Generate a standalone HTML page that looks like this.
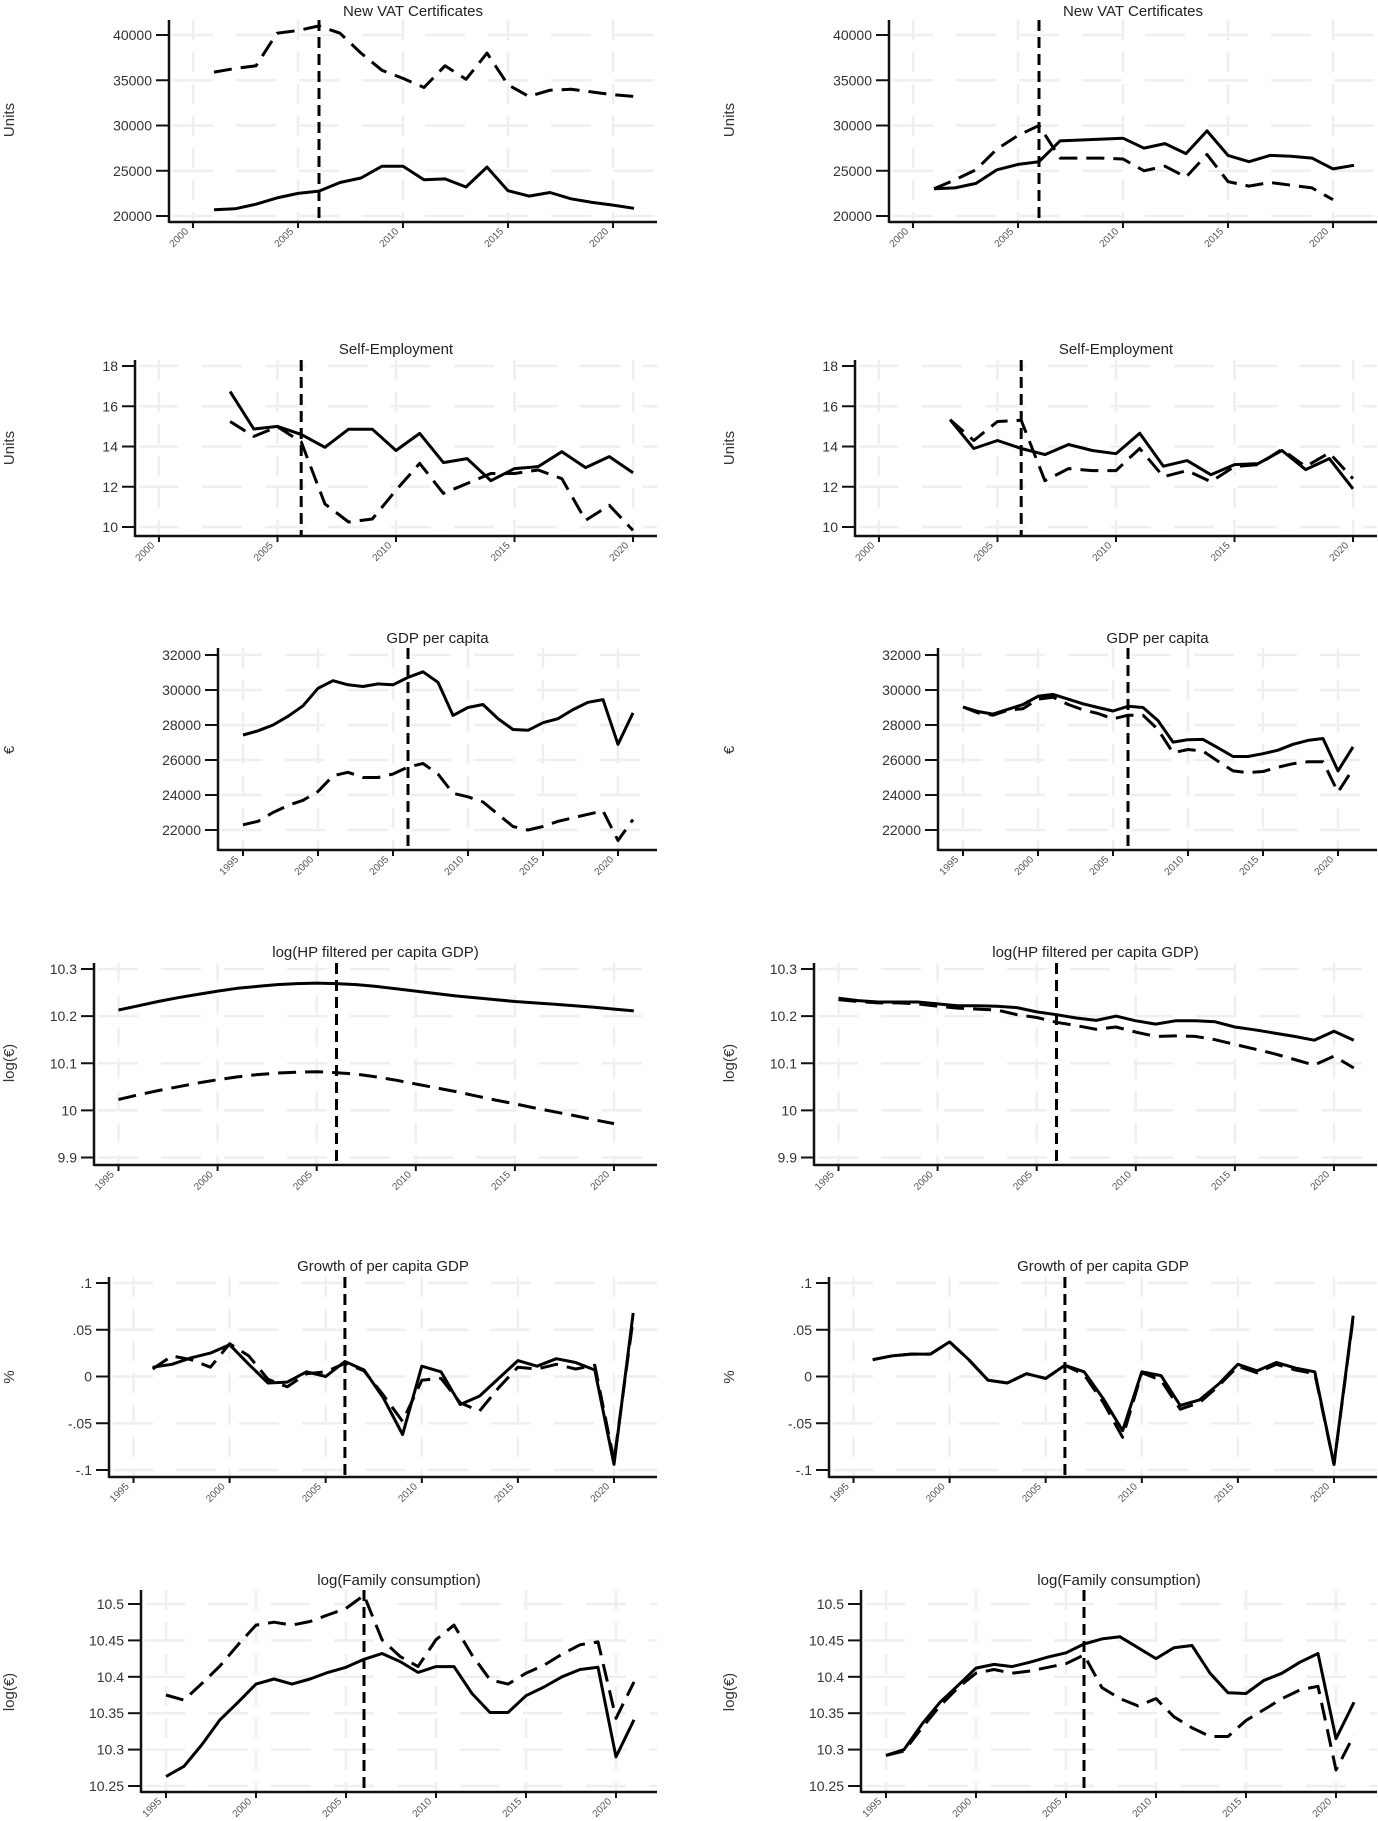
<!DOCTYPE html>
<html><head><meta charset="utf-8"><title>Panels</title>
<style>
html,body{margin:0;padding:0;background:#fff;}
svg{display:block;font-family:"Liberation Sans",Arial,sans-serif;}
</style></head>
<body>
<svg id="fig" width="1378" height="1821" viewBox="0 0 1378 1821" xmlns="http://www.w3.org/2000/svg"></svg>
<script>
// ---------- data ----------
const treatYear = 2006;
const yearTicksA = [2000,2005,2010,2015,2020];
const yearTicksB = [1995,2000,2005,2010,2015,2020];

const vatTicks = [20000,25000,30000,35000,40000];
const vatTickLabels = ["20000","25000","30000","35000","40000"];
const vatLSolidStart = 2001;
const vatLSolid = [20700,20800,21300,22000,22500,22750,23700,24200,25500,25500,24000,24100,23200,25400,22800,22200,22600,21900,21500,21200,20850];
const vatLDashStart = 2001;
const vatLDash = [35900,36300,36600,40200,40500,41000,40200,38000,36100,35200,34200,36600,35100,38000,34500,33200,33900,34000,33700,33400,33200];
const vatRSolidStart = 2001;
const vatRSolid = [23000,23100,23600,25100,25700,26000,28300,28400,28500,28600,27500,28000,26900,29400,26700,26000,26700,26600,26400,25200,25600];
const vatRDashStart = 2001;
const vatRDash = [23000,24000,25100,27400,28900,30000,26400,26400,26400,26300,25000,25500,24300,26800,23800,23300,23700,23400,23100,21800];

const seTicks = [10,12,14,16,18];
const seTickLabels = ["10","12","14","16","18"];
const seLSolidStart = 2003;
const seLSolid = [16.73,14.87,15.0,14.6,13.96,14.86,14.86,13.8,14.65,13.2,13.4,12.3,12.9,13.0,13.74,12.95,13.5,12.7];
const seLDashStart = 2003;
const seLDash = [15.24,14.5,14.98,14.23,11.15,10.25,10.4,11.83,13.16,11.67,12.16,12.66,12.66,12.83,12.4,10.33,11.08,9.83];
const seRSolidStart = 2003;
const seRSolid = [15.33,13.9,14.3,13.9,13.6,14.1,13.8,13.64,14.66,13.02,13.3,12.6,13.1,13.15,13.8,12.85,13.4,11.9];
const seRDashStart = 2003;
const seRDash = [15.33,14.3,15.24,15.3,12.3,12.9,12.8,12.8,13.9,12.5,12.8,12.25,13.0,13.1,13.85,13.0,13.68,12.4];

const gdpTicks = [22000,24000,26000,28000,30000,32000];
const gdpTickLabels = ["22000","24000","26000","28000","30000","32000"];
const gdpLSolidStart = 1995;
const gdpLSolid = [27430,27670,28000,28500,29100,30100,30530,30300,30200,30350,30300,30720,31040,30440,28550,29000,29170,28360,27740,27700,28130,28360,28880,29300,29450,26900,28690];
const gdpLDashStart = 1995;
const gdpLDash = [22300,22500,23000,23400,23700,24200,25100,25300,25000,25000,25200,25600,25800,25200,24100,23900,23600,22900,22200,22000,22200,22500,22700,22900,23100,21400,22600];
const gdpRSolidStart = 1995;
const gdpRSolid = [29030,28770,28620,28900,29170,29640,29750,29480,29210,29000,28800,29070,29000,28250,27020,27160,27180,26700,26200,26200,26360,26560,26900,27120,27230,25380,26750];
const gdpRDashStart = 1995;
const gdpRDash = [29030,28700,28560,28850,28930,29480,29590,29180,28870,28660,28350,28560,28560,27740,26410,26600,26510,25930,25380,25280,25340,25590,25790,25900,25900,24160,25490];

const hpTicks = [9.9,10,10.1,10.2,10.3];
const hpTickLabels = ["9.9","10","10.1","10.2","10.3"];
const hpLSolidStart = 1995;
const hpLSolid = [10.213,10.222,10.231,10.239,10.246,10.253,10.259,10.263,10.267,10.269,10.270,10.269,10.267,10.263,10.258,10.253,10.248,10.243,10.239,10.235,10.231,10.228,10.225,10.222,10.219,10.215,10.211];
const hpLDashStart = 1995;
const hpLDash = [10.023,10.033,10.042,10.050,10.058,10.065,10.071,10.076,10.079,10.081,10.082,10.080,10.077,10.071,10.064,10.056,10.048,10.040,10.031,10.022,10.014,10.005,9.997,9.989,9.980,9.972];
const hpRSolidStart = 1995;
const hpRSolid = [10.238,10.233,10.230,10.230,10.230,10.226,10.222,10.222,10.221,10.218,10.209,10.203,10.196,10.191,10.200,10.190,10.183,10.190,10.190,10.188,10.177,10.171,10.164,10.157,10.149,10.168,10.149];
const hpRDashStart = 1995;
const hpRDash = [10.235,10.231,10.228,10.228,10.226,10.221,10.217,10.215,10.213,10.203,10.197,10.187,10.180,10.172,10.177,10.166,10.157,10.158,10.157,10.150,10.140,10.130,10.120,10.108,10.096,10.115,10.090];

const grTicks = [-0.1,-0.05,0,0.05,0.1];
const grTickLabels = ["-.1","-.05","0",".05",".1"];
const grLSolidStart = 1996;
const grLSolid = [0.010,0.013,0.020,0.025,0.034,0.013,-0.007,-0.006,0.005,0.000,0.016,0.007,-0.023,-0.062,0.011,0.005,-0.030,-0.021,-0.002,0.017,0.011,0.019,0.015,0.007,-0.094,0.068];
const grLDashStart = 1996;
const grLDash = [0.008,0.022,0.018,0.010,0.035,0.022,-0.003,-0.011,0.003,0.005,0.014,0.006,-0.020,-0.048,-0.004,-0.002,-0.028,-0.037,-0.012,0.010,0.008,0.013,0.008,0.012,-0.090,0.062];
const grRSolidStart = 1996;
const grRSolid = [0.018,0.022,0.024,0.024,0.037,0.018,-0.004,-0.007,0.003,-0.002,0.012,0.005,-0.024,-0.058,0.005,0.001,-0.031,-0.025,-0.008,0.013,0.006,0.015,0.009,0.005,-0.094,0.065];
const grRDashStart = 1996;
const grRDash = [0.018,0.022,0.024,0.024,0.037,0.018,-0.004,-0.007,0.003,-0.002,0.012,0.002,-0.028,-0.065,0.004,-0.004,-0.035,-0.028,-0.010,0.011,0.004,0.013,0.007,0.003,-0.094,0.063];

const fcTicks = [10.25,10.3,10.35,10.4,10.45,10.5];
const fcTickLabels = ["10.25","10.3","10.35","10.4","10.45","10.5"];
const fcLSolidStart = 1995;
const fcLSolid = [10.263,10.277,10.307,10.341,10.365,10.390,10.397,10.390,10.397,10.406,10.413,10.424,10.432,10.421,10.406,10.414,10.414,10.377,10.351,10.351,10.374,10.386,10.400,10.410,10.413,10.290,10.341];
const fcLDashStart = 1995;
const fcLDash = [10.375,10.368,10.391,10.415,10.444,10.471,10.475,10.471,10.476,10.485,10.494,10.512,10.451,10.428,10.414,10.451,10.471,10.430,10.396,10.390,10.405,10.416,10.431,10.444,10.448,10.343,10.393];
const fcRSolidStart = 1995;
const fcRSolid = [10.292,10.300,10.335,10.365,10.388,10.412,10.417,10.414,10.420,10.427,10.433,10.445,10.452,10.455,10.440,10.425,10.440,10.443,10.405,10.378,10.377,10.395,10.405,10.420,10.432,10.315,10.365];
const fcRDashStart = 1995;
const fcRDash = [10.292,10.298,10.330,10.360,10.385,10.405,10.410,10.405,10.408,10.413,10.418,10.430,10.385,10.370,10.360,10.370,10.345,10.330,10.318,10.318,10.340,10.355,10.370,10.382,10.387,10.272,10.320];

// ---------- layout (geometry only) ----------
const RIGHT_END = 657, COL_OFF = 720;
const rows = [
 {key:"vat", title:"New VAT Certificates", ylab:"Units", axisX:169, yrA:2000, pxA:193, yrB:2020, pxB:613, vA:40000, pyA:35, vB:20000, pyB:216, top:20, bot:222, titleY:16, labY:120, yt:yearTicksA, ticks:vatTicks, tl:vatTickLabels,
  L:{ss:vatLSolidStart,s:vatLSolid,ds:vatLDashStart,d:vatLDash}, R:{ss:vatRSolidStart,s:vatRSolid,ds:vatRDashStart,d:vatRDash}},
 {key:"self-employment", title:"Self-Employment", ylab:"Units", axisX:135, yrA:2000, pxA:159, yrB:2020, pxB:633, vA:18, pyA:366, vB:10, pyB:527, top:360, bot:536, titleY:354, labY:448, yt:yearTicksA, ticks:seTicks, tl:seTickLabels,
  L:{ss:seLSolidStart,s:seLSolid,ds:seLDashStart,d:seLDash}, R:{ss:seRSolidStart,s:seRSolid,ds:seRDashStart,d:seRDash}},
 {key:"gdp", title:"GDP per capita", ylab:"\u20AC", axisX:218, yrA:1995, pxA:243, yrB:2020, pxB:618, vA:32000, pyA:655, vB:22000, pyB:830, top:648, bot:850, titleY:643, labY:750, yt:yearTicksB, ticks:gdpTicks, tl:gdpTickLabels,
  L:{ss:gdpLSolidStart,s:gdpLSolid,ds:gdpLDashStart,d:gdpLDash}, R:{ss:gdpRSolidStart,s:gdpRSolid,ds:gdpRDashStart,d:gdpRDash}},
 {key:"hp-gdp", title:"log(HP filtered per capita GDP)", ylab:"log(\u20AC)", axisX:94, yrA:1995, pxA:118.5, yrB:2020, pxB:614, vA:10.3, pyA:969, vB:9.9, pyB:1157.5, top:963, bot:1165, titleY:957, labY:1063, yt:yearTicksB, ticks:hpTicks, tl:hpTickLabels,
  L:{ss:hpLSolidStart,s:hpLSolid,ds:hpLDashStart,d:hpLDash}, R:{ss:hpRSolidStart,s:hpRSolid,ds:hpRDashStart,d:hpRDash}},
 {key:"growth", title:"Growth of per capita GDP", ylab:"%", axisX:109, yrA:1995, pxA:133.5, yrB:2020, pxB:614, vA:0.1, pyA:1283, vB:-0.1, pyB:1470, top:1277, bot:1477, titleY:1271, labY:1377, yt:yearTicksB, ticks:grTicks, tl:grTickLabels,
  L:{ss:grLSolidStart,s:grLSolid,ds:grLDashStart,d:grLDash}, R:{ss:grRSolidStart,s:grRSolid,ds:grRDashStart,d:grRDash}},
 {key:"family-consumption", title:"log(Family consumption)", ylab:"log(\u20AC)", axisX:141, yrA:1995, pxA:166, yrB:2020, pxB:616, vA:10.5, pyA:1604, vB:10.25, pyB:1786, top:1590, bot:1792, titleY:1585, labY:1692, yt:yearTicksB, ticks:fcTicks, tl:fcTickLabels,
  L:{ss:fcLSolidStart,s:fcLSolid,ds:fcLDashStart,d:fcLDash}, R:{ss:fcRSolidStart,s:fcRSolid,ds:fcRDashStart,d:fcRDash}}
];

const NS = "http://www.w3.org/2000/svg";
const svg = document.getElementById("fig");
function mk(tag, attrs, parent){
  const e = document.createElementNS(NS, tag);
  for (const k in attrs) e.setAttribute(k, attrs[k]);
  parent.appendChild(e);
  return e;
}

rows.forEach(r => {
  ["L","R"].forEach(side => {
    const off = side === "L" ? 0 : COL_OFF;
    const sideName = side === "L" ? "left" : "right";
    const xs = yr => off + r.pxA + (yr - r.yrA) * (r.pxB - r.pxA) / (r.yrB - r.yrA);
    const ys = v => r.pyA + (v - r.vA) * (r.pyB - r.pyA) / (r.vB - r.vA);
    const ax = off + r.axisX, right = off + RIGHT_END;

    const g = mk("g", {}, svg);
    
    

    const grid = mk("g", {}, g);
    
    
    r.ticks.forEach(t => {
      const gl = mk("line", {x1:ax+4, x2:right, y1:ys(t), y2:ys(t), stroke:"#efefef", "stroke-width":2.5, "stroke-dasharray":"40 23"}, grid);
      
      
    });
    r.yt.forEach(t => {
      const gl = mk("line", {x1:xs(t), x2:xs(t), y1:r.top, y2:r.bot, stroke:"#efefef", "stroke-width":2.5, "stroke-dasharray":"20 12"}, grid);
      
      
    });

    const d = r[side];
    const mkPath = (start, vals, dash, name) => {
      const pts = vals.map((v,i) => xs(start + i).toFixed(1) + "," + ys(v).toFixed(1));
      const p = mk("polyline", {points:pts.join(" "), fill:"none", stroke:"#000", "stroke-width":3, "stroke-linejoin":"round"}, g);
      if (dash) p.setAttribute("stroke-dasharray", "18 9");
      
      
    };
    mkPath(d.ds, d.d, true, 'control-series-dashed');
    mkPath(d.ss, d.s, false, 'treated-series-solid');

    const tl = mk("line", {x1:xs(treatYear), x2:xs(treatYear), y1:r.top, y2:r.bot, stroke:"#000", "stroke-width":3, "stroke-dasharray":"11 6"}, g);
    
    

    const yAxis = mk("line", {x1:ax, x2:ax, y1:r.top, y2:r.bot+1, stroke:"#111", "stroke-width":2.5}, g);
    
    
    const xAxis = mk("line", {x1:ax, x2:right, y1:r.bot, y2:r.bot, stroke:"#111", "stroke-width":2.5}, g);
    
    

    r.ticks.forEach((t,i) => {
      const tk = mk("line", {x1:ax-13, x2:ax, y1:ys(t), y2:ys(t), stroke:"#111", "stroke-width":2}, g);
      
      
      const tx = mk("text", {x:ax-17, y:ys(t)+5, "text-anchor":"end", "font-size":14, fill:"#333"}, g);
      tx.textContent = r.tl[i];
      
      
    });
    r.yt.forEach(t => {
      const tk = mk("line", {x1:xs(t), x2:xs(t), y1:r.bot, y2:r.bot+6, stroke:"#111", "stroke-width":2}, g);
      
      
      const px = xs(t) - 4, py = r.bot + 10;
      const tx = mk("text", {x:px, y:py, "text-anchor":"end", "font-size":10, fill:"#555", transform:"rotate(-45 " + px + " " + py + ")"}, g);
      tx.textContent = String(t);
      
      
    });

    const tt = mk("text", {x:(ax+right)/2, y:r.titleY, "text-anchor":"middle", "font-size":15, fill:"#222"}, g);
    tt.textContent = r.title;
    
    

    const lx = off + 14, ly = r.labY;
    const yl = mk("text", {x:lx, y:ly, "text-anchor":"middle", "font-size":15, fill:"#333", transform:"rotate(-90 " + lx + " " + ly + ")"}, g);
    yl.textContent = r.ylab;
    
    
  });
});
</script>
</body></html>
